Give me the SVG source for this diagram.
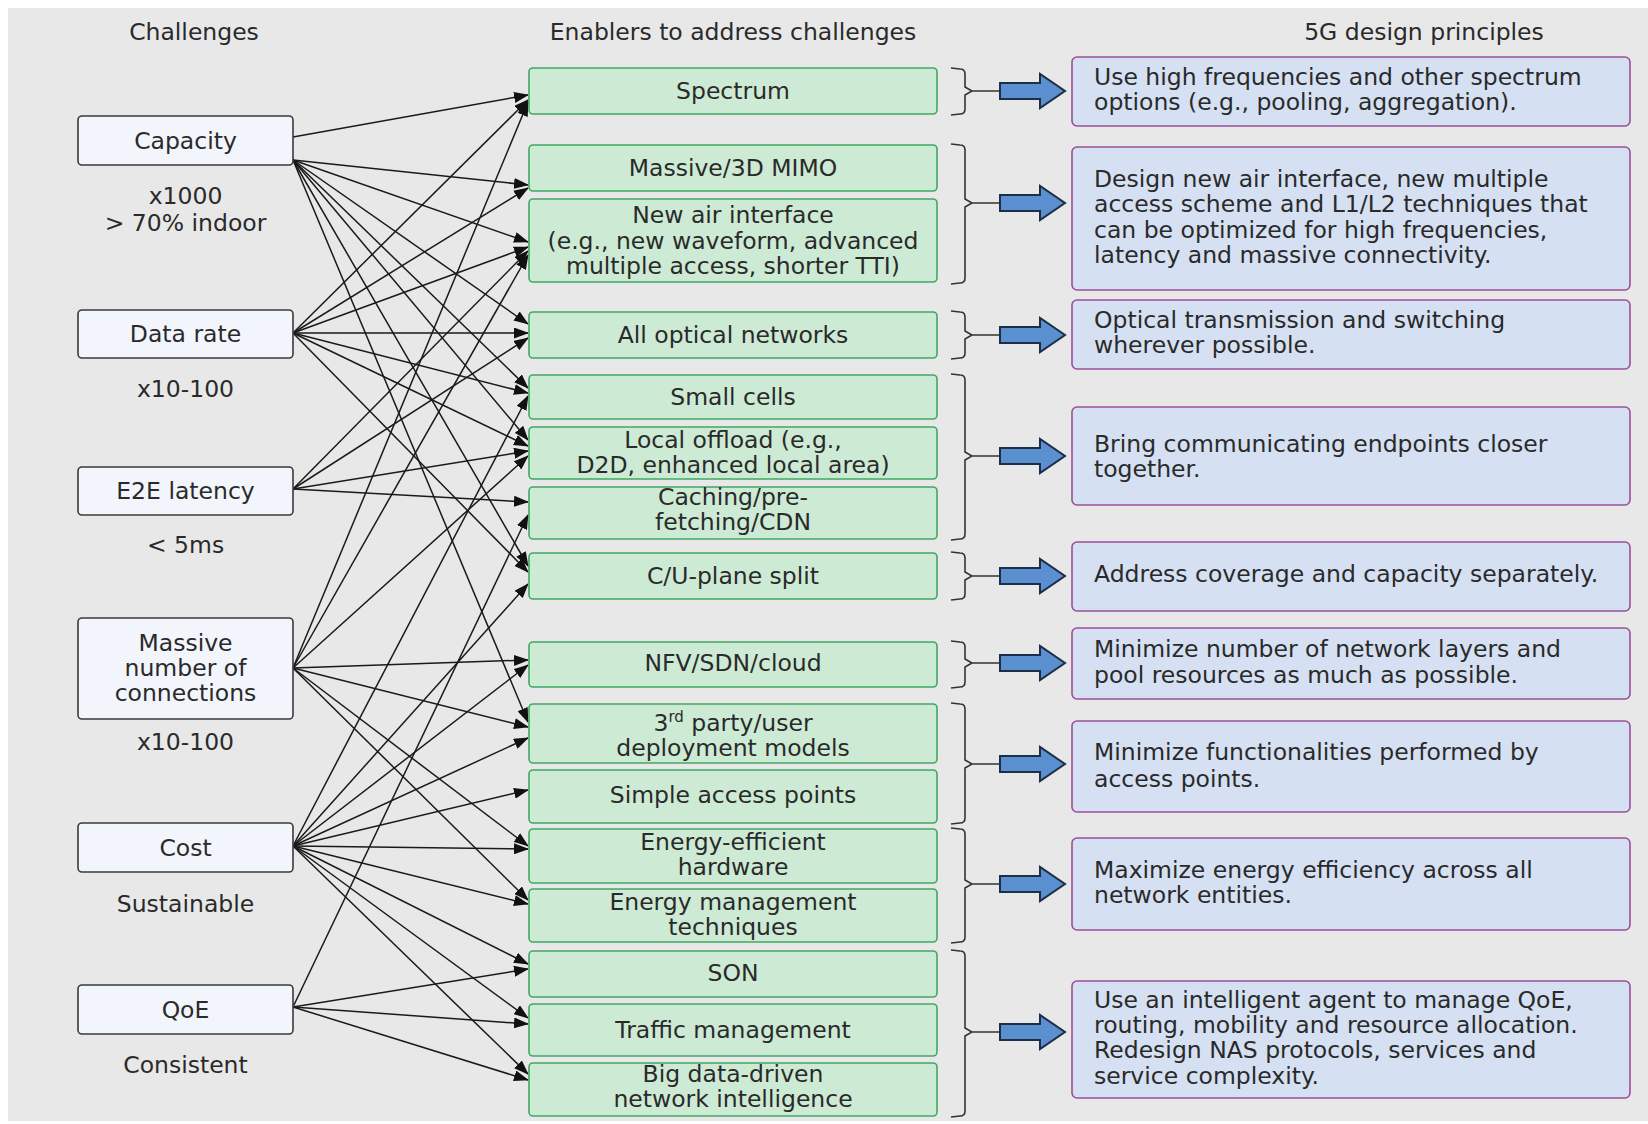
<svg xmlns="http://www.w3.org/2000/svg" width="1648" height="1124" viewBox="0 0 1648 1124">
  <defs>
    <style>
      text { font-family: "DejaVu Sans", "Liberation Sans", sans-serif; font-size: 23.5px; fill: #2a2a2a; }
      .c { text-anchor: middle; }
      .chal { fill: #f2f5fc; stroke: #3a3a3a; stroke-width: 1.6; }
      .en { fill: #cdead5; stroke: #40a862; stroke-width: 1.6; }
      .pr { fill: #d5e0f2; stroke: #9b4f9b; stroke-width: 1.6; }
      .br { fill: none; stroke: #333; stroke-width: 1.6; }
      .ba { fill: #5a8fd0; stroke: #1d2f48; stroke-width: 2; stroke-linejoin: miter; }
      #connectors line { stroke: #1a1a1a; stroke-width: 1.5; marker-end: url(#ah); }
    </style>
    <marker id="ah" viewBox="0 0 15 11" refX="14" refY="5.5" markerWidth="15" markerHeight="11" markerUnits="userSpaceOnUse" orient="auto">
      <path d="M0,0 L15,5.5 L0,11 Z" fill="#111"/>
    </marker>
  </defs>

  <!-- panel -->
  <rect x="8" y="8" width="1640" height="1113" fill="#e8e8e9"/>

  <!-- column headings -->
  <g id="headings">
    <text class="c" x="194" y="40">Challenges</text>
    <text class="c" x="733" y="40">Enablers to address challenges</text>
    <text class="c" x="1424" y="40">5G design principles</text>
  </g>

  <!-- connectors: challenges to enablers -->
  <g id="connectors">
    <!-- Capacity -->
    <line x1="293" y1="137" x2="528" y2="95"/>
    <line x1="293" y1="160" x2="528" y2="185"/>
    <line x1="293" y1="160" x2="528" y2="242"/>
    <line x1="293" y1="160" x2="528" y2="324"/>
    <line x1="293" y1="160" x2="528" y2="388"/>
    <line x1="293" y1="160" x2="528" y2="440"/>
    <line x1="293" y1="160" x2="528" y2="566"/>
    <line x1="293" y1="160" x2="528" y2="722"/>
    <!-- Data rate -->
    <line x1="293" y1="333" x2="528" y2="100"/>
    <line x1="293" y1="333" x2="528" y2="188"/>
    <line x1="293" y1="333" x2="528" y2="247"/>
    <line x1="293" y1="333" x2="528" y2="333"/>
    <line x1="293" y1="333" x2="528" y2="393"/>
    <line x1="293" y1="333" x2="528" y2="446"/>
    <line x1="293" y1="333" x2="528" y2="572"/>
    <!-- E2E latency -->
    <line x1="293" y1="489" x2="528" y2="251"/>
    <line x1="293" y1="489" x2="528" y2="338"/>
    <line x1="293" y1="489" x2="528" y2="451"/>
    <line x1="293" y1="489" x2="528" y2="502"/>
    <!-- Massive number of connections -->
    <line x1="293" y1="668" x2="528" y2="102"/>
    <line x1="293" y1="668" x2="528" y2="255"/>
    <line x1="293" y1="668" x2="528" y2="456"/>
    <line x1="293" y1="668" x2="528" y2="660"/>
    <line x1="293" y1="668" x2="528" y2="727"/>
    <line x1="293" y1="668" x2="528" y2="846"/>
    <line x1="293" y1="668" x2="528" y2="900"/>
    <!-- Cost -->
    <line x1="293" y1="846" x2="528" y2="396"/>
    <line x1="293" y1="846" x2="528" y2="584"/>
    <line x1="293" y1="846" x2="528" y2="665"/>
    <line x1="293" y1="846" x2="528" y2="738"/>
    <line x1="293" y1="846" x2="528" y2="790"/>
    <line x1="293" y1="846" x2="528" y2="849"/>
    <line x1="293" y1="846" x2="528" y2="904"/>
    <line x1="293" y1="846" x2="528" y2="964"/>
    <line x1="293" y1="846" x2="528" y2="1018"/>
    <line x1="293" y1="846" x2="528" y2="1074"/>
    <!-- QoE -->
    <line x1="293" y1="1007" x2="528" y2="515"/>
    <line x1="293" y1="1007" x2="528" y2="969"/>
    <line x1="293" y1="1007" x2="528" y2="1024"/>
    <line x1="293" y1="1007" x2="528" y2="1080"/>
  </g>

  <!-- challenges -->
  <g id="capacity">
    <rect class="chal" x="78" y="116" width="215" height="49" rx="4"/>
    <text class="c" x="185.5" y="149">Capacity</text>
    <text class="c" x="185.5" y="204">x1000</text>
    <text class="c" x="185.5" y="231">&gt; 70% indoor</text>
  </g>
  <g id="data-rate">
    <rect class="chal" x="78" y="310" width="215" height="48" rx="4"/>
    <text class="c" x="185.5" y="342">Data rate</text>
    <text class="c" x="185.5" y="397">x10-100</text>
  </g>
  <g id="e2e-latency">
    <rect class="chal" x="78" y="467" width="215" height="48" rx="4"/>
    <text class="c" x="185.5" y="499">E2E latency</text>
    <text class="c" x="185.5" y="553">&lt; 5ms</text>
  </g>
  <g id="massive-connections">
    <rect class="chal" x="78" y="618" width="215" height="101" rx="4"/>
    <text class="c" x="185.5" y="651">Massive</text>
    <text class="c" x="185.5" y="676">number of</text>
    <text class="c" x="185.5" y="701">connections</text>
    <text class="c" x="185.5" y="750">x10-100</text>
  </g>
  <g id="cost">
    <rect class="chal" x="78" y="823" width="215" height="49" rx="4"/>
    <text class="c" x="185.5" y="856">Cost</text>
    <text class="c" x="185.5" y="912">Sustainable</text>
  </g>
  <g id="qoe">
    <rect class="chal" x="78" y="985" width="215" height="49" rx="4"/>
    <text class="c" x="185.5" y="1018">QoE</text>
    <text class="c" x="185.5" y="1073">Consistent</text>
  </g>

  <!-- enablers -->
  <g id="spectrum">
    <rect class="en" x="529" y="68" width="408" height="46" rx="4"/>
    <text class="c" x="733" y="99">Spectrum</text>
  </g>
  <g id="massive-mimo">
    <rect class="en" x="529" y="145" width="408" height="46" rx="4"/>
    <text class="c" x="733" y="176">Massive/3D MIMO</text>
  </g>
  <g id="new-air-interface">
    <rect class="en" x="529" y="199" width="408" height="83" rx="4"/>
    <text class="c" x="733" y="223">New air interface</text>
    <text class="c" x="733" y="248.5">(e.g., new waveform, advanced</text>
    <text class="c" x="733" y="274">multiple access, shorter TTI)</text>
  </g>
  <g id="optical-networks">
    <rect class="en" x="529" y="312" width="408" height="46" rx="4"/>
    <text class="c" x="733" y="343">All optical networks</text>
  </g>
  <g id="small-cells">
    <rect class="en" x="529" y="375" width="408" height="44" rx="4"/>
    <text class="c" x="733" y="405">Small cells</text>
  </g>
  <g id="local-offload">
    <rect class="en" x="529" y="427" width="408" height="52" rx="4"/>
    <text class="c" x="733" y="448">Local offload (e.g.,</text>
    <text class="c" x="733" y="473">D2D, enhanced local area)</text>
  </g>
  <g id="caching">
    <rect class="en" x="529" y="487" width="408" height="52" rx="4"/>
    <text class="c" x="733" y="505">Caching/pre-</text>
    <text class="c" x="733" y="530">fetching/CDN</text>
  </g>
  <g id="cu-split">
    <rect class="en" x="529" y="553" width="408" height="46" rx="4"/>
    <text class="c" x="733" y="584">C/U-plane split</text>
  </g>
  <g id="nfv-sdn">
    <rect class="en" x="529" y="642" width="408" height="45" rx="4"/>
    <text class="c" x="733" y="671">NFV/SDN/cloud</text>
  </g>
  <g id="third-party">
    <rect class="en" x="529" y="704" width="408" height="59" rx="4"/>
    <text class="c" x="733" y="731">3<tspan dy="-9" font-size="15">rd</tspan><tspan dy="9"> party/user</tspan></text>
    <text class="c" x="733" y="756">deployment models</text>
  </g>
  <g id="simple-ap">
    <rect class="en" x="529" y="770" width="408" height="53" rx="4"/>
    <text class="c" x="733" y="803">Simple access points</text>
  </g>
  <g id="energy-hw">
    <rect class="en" x="529" y="829" width="408" height="54" rx="4"/>
    <text class="c" x="733" y="850">Energy-efficient</text>
    <text class="c" x="733" y="875">hardware</text>
  </g>
  <g id="energy-mgmt">
    <rect class="en" x="529" y="889" width="408" height="53" rx="4"/>
    <text class="c" x="733" y="910">Energy management</text>
    <text class="c" x="733" y="935">techniques</text>
  </g>
  <g id="son">
    <rect class="en" x="529" y="951" width="408" height="46" rx="4"/>
    <text class="c" x="733" y="981">SON</text>
  </g>
  <g id="traffic-mgmt">
    <rect class="en" x="529" y="1004" width="408" height="52" rx="4"/>
    <text class="c" x="733" y="1038">Traffic management</text>
  </g>
  <g id="big-data">
    <rect class="en" x="529" y="1063" width="408" height="53" rx="4"/>
    <text class="c" x="733" y="1082">Big data-driven</text>
    <text class="c" x="733" y="1107">network intelligence</text>
  </g>

  <!-- braces and block arrows -->
  <g id="braces">
    <path class="br" d="M951,68 L960,69 Q965,69 965,74 L965,87 L972,91 L965,95 L965,109 Q965,114 960,114 L951,115 M972,91 L1000,91"/>
    <path class="br" d="M951,144 L960,145 Q965,145 965,150 L965,199 L972,203 L965,207 L965,278 Q965,283 960,283 L951,284 M972,203 L1000,203"/>
    <path class="br" d="M951,311 L960,312 Q965,312 965,317 L965,331 L972,335 L965,339 L965,353 Q965,358 960,358 L951,359 M972,335 L1000,335"/>
    <path class="br" d="M951,374 L960,375 Q965,375 965,380 L965,452 L972,456 L965,460 L965,534 Q965,539 960,539 L951,540 M972,456 L1000,456"/>
    <path class="br" d="M951,552 L960,553 Q965,553 965,558 L965,572 L972,576 L965,580 L965,594 Q965,599 960,599 L951,600 M972,576 L1000,576"/>
    <path class="br" d="M951,641 L960,642 Q965,642 965,647 L965,659 L972,663 L965,667 L965,682 Q965,687 960,687 L951,688 M972,663 L1000,663"/>
    <path class="br" d="M951,703 L960,704 Q965,704 965,709 L965,760 L972,764 L965,768 L965,818 Q965,823 960,823 L951,824 M972,764 L1000,764"/>
    <path class="br" d="M951,828 L960,829 Q965,829 965,834 L965,880 L972,884 L965,888 L965,937 Q965,942 960,942 L951,943 M972,884 L1000,884"/>
    <path class="br" d="M951,950 L960,951 Q965,951 965,956 L965,1028 L972,1032 L965,1036 L965,1111 Q965,1116 960,1116 L951,1117 M972,1032 L1000,1032"/>
  </g>
  <g id="block-arrows">
    <path class="ba" d="M1000,83 L1040,83 L1040,74 L1065,91 L1040,108 L1040,99 L1000,99 Z"/>
    <path class="ba" d="M1000,195 L1040,195 L1040,186 L1065,203 L1040,220 L1040,211 L1000,211 Z"/>
    <path class="ba" d="M1000,327 L1040,327 L1040,318 L1065,335 L1040,352 L1040,343 L1000,343 Z"/>
    <path class="ba" d="M1000,448 L1040,448 L1040,439 L1065,456 L1040,473 L1040,464 L1000,464 Z"/>
    <path class="ba" d="M1000,568 L1040,568 L1040,559 L1065,576 L1040,593 L1040,584 L1000,584 Z"/>
    <path class="ba" d="M1000,655 L1040,655 L1040,646 L1065,663 L1040,680 L1040,671 L1000,671 Z"/>
    <path class="ba" d="M1000,756 L1040,756 L1040,747 L1065,764 L1040,781 L1040,772 L1000,772 Z"/>
    <path class="ba" d="M1000,876 L1040,876 L1040,867 L1065,884 L1040,901 L1040,892 L1000,892 Z"/>
    <path class="ba" d="M1000,1024 L1040,1024 L1040,1015 L1065,1032 L1040,1049 L1040,1040 L1000,1040 Z"/>
  </g>

  <!-- design principles -->
  <g id="p-spectrum">
    <rect class="pr" x="1072" y="57" width="558" height="69" rx="5"/>
    <text x="1094" y="85">Use high frequencies and other spectrum</text>
    <text x="1094" y="110">options (e.g., pooling, aggregation).</text>
  </g>
  <g id="p-air-interface">
    <rect class="pr" x="1072" y="147" width="558" height="143" rx="5"/>
    <text x="1094" y="187">Design new air interface, new multiple</text>
    <text x="1094" y="212">access scheme and L1/L2 techniques that</text>
    <text x="1094" y="238">can be optimized for high frequencies,</text>
    <text x="1094" y="263">latency and massive connectivity.</text>
  </g>
  <g id="p-optical">
    <rect class="pr" x="1072" y="300" width="558" height="69" rx="5"/>
    <text x="1094" y="328">Optical transmission and switching</text>
    <text x="1094" y="353">wherever possible.</text>
  </g>
  <g id="p-endpoints">
    <rect class="pr" x="1072" y="407" width="558" height="98" rx="5"/>
    <text x="1094" y="452">Bring communicating endpoints closer</text>
    <text x="1094" y="477">together.</text>
  </g>
  <g id="p-coverage">
    <rect class="pr" x="1072" y="542" width="558" height="69" rx="5"/>
    <text x="1094" y="582">Address coverage and capacity separately.</text>
  </g>
  <g id="p-layers">
    <rect class="pr" x="1072" y="628" width="558" height="71" rx="5"/>
    <text x="1094" y="657">Minimize number of network layers and</text>
    <text x="1094" y="683">pool resources as much as possible.</text>
  </g>
  <g id="p-access-points">
    <rect class="pr" x="1072" y="721" width="558" height="91" rx="5"/>
    <text x="1094" y="760">Minimize functionalities performed by</text>
    <text x="1094" y="787">access points.</text>
  </g>
  <g id="p-energy">
    <rect class="pr" x="1072" y="838" width="558" height="92" rx="5"/>
    <text x="1094" y="878">Maximize energy efficiency across all</text>
    <text x="1094" y="903">network entities.</text>
  </g>
  <g id="p-agent">
    <rect class="pr" x="1072" y="981" width="558" height="117" rx="5"/>
    <text x="1094" y="1008">Use an intelligent agent to manage QoE,</text>
    <text x="1094" y="1033">routing, mobility and resource allocation.</text>
    <text x="1094" y="1058">Redesign NAS protocols, services and</text>
    <text x="1094" y="1084">service complexity.</text>
  </g>
</svg>
